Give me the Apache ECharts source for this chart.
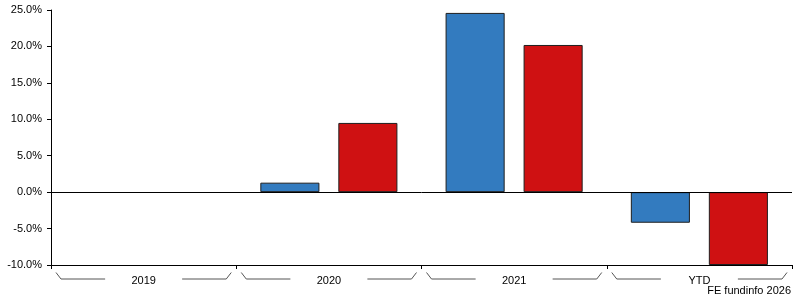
<!DOCTYPE html>
<html><head><meta charset="utf-8">
<script src="https://cdn.jsdelivr.net/npm/echarts@6/dist/echarts.min.js"></script>
<style>html,body{margin:0;padding:0;background:#fff}#c{width:795px;height:300px}</style>
</head><body><div id="c"></div>
<script>
const categories = ['2019', '2020', '2021', 'YTD'];
const fundValues = [null, 1.3, 24.6, -4.2];
const sectorValues = [null, 9.5, 20.2, -10.0];
const yTicks = [-10, -5, 0, 5, 10, 15, 20, 25];

const chart = echarts.init(document.getElementById('c'), null, {renderer: 'canvas'});
const font = 'Liberation Sans, Arial, sans-serif';
chart.setOption({
  animation: false,
  grid: {left: 51, right: 3, top: 10, bottom: 35, containLabel: false},
  xAxis: {
    type: 'category', data: categories,
    axisLine: {onZero: false, lineStyle: {color: '#000', width: 1}},
    axisTick: {show: true, length: 4, lineStyle: {color: '#000'}},
    axisLabel: {color: '#000', fontSize: 11, fontFamily: font, margin: 10}
  },
  yAxis: {
    type: 'value', min: yTicks[0], max: yTicks[yTicks.length - 1], interval: 5,
    axisLine: {show: true, lineStyle: {color: '#000', width: 1}},
    axisTick: {show: true, length: 4, lineStyle: {color: '#000'}},
    splitLine: {show: false},
    axisLabel: {color: '#000', fontSize: 11, fontFamily: font, margin: 9,
      formatter: v => v.toFixed(1) + '%'}
  },
  series: [
    {type: 'bar', data: fundValues, barGap: '32%', barCategoryGap: '26%',
     itemStyle: {color: '#337BBF', borderColor: '#1f1f1f', borderWidth: 1},
     markLine: {silent: true, symbol: 'none', label: {show: false},
       lineStyle: {color: '#000', width: 1, type: 'solid'}, data: [{yAxis: 0}]}},
    {type: 'bar', data: sectorValues,
     itemStyle: {color: '#CF1112', borderColor: '#1f1f1f', borderWidth: 1}}
  ]
});

// bracket decorations under category labels
const c0 = chart.convertToPixel({xAxisIndex: 0}, 0);
const c1 = chart.convertToPixel({xAxisIndex: 0}, 1);
const band = c1 - c0;
const yb = chart.convertToPixel({yAxisIndex: 0}, yTicks[0]);
const els = [];
categories.forEach((cat, i) => {
  const cx = chart.convertToPixel({xAxisIndex: 0}, i);
  const l = cx - band / 2, r = cx + band / 2;
  const yTop = yb + 7.5, yBot = yb + 14;
  els.push({type: 'polyline', silent: true,
    shape: {points: [[l + 5, yTop], [l + 10, yBot], [cx - 38.5, yBot]]},
    style: {stroke: '#555', lineWidth: 1, fill: null}});
  els.push({type: 'polyline', silent: true,
    shape: {points: [[cx + 38.5, yBot], [r - 10, yBot], [r - 5, yTop]]},
    style: {stroke: '#555', lineWidth: 1, fill: null}});
});
els.push({type: 'text', right: 4, bottom: 4,
  style: {text: 'FE fundinfo 2026', fill: '#000', fontSize: 11, fontFamily: font}});
chart.setOption({graphic: els});
</script></body></html>
